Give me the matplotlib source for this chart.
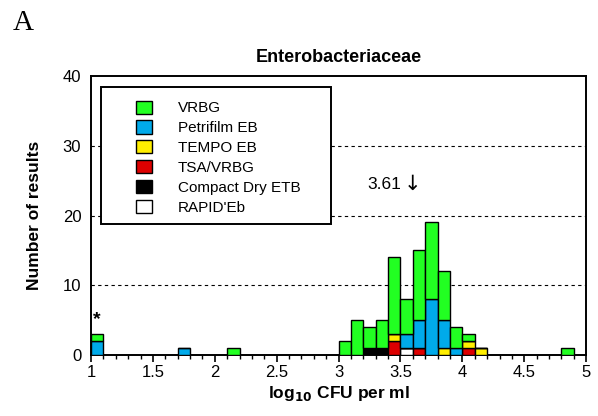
import numpy as np
import matplotlib.pyplot as plt
from matplotlib.patches import Rectangle
from matplotlib.ticker import MultipleLocator

# bin left edges (log10 CFU per ml), bin width 0.1
bins = [1.0, 1.7, 2.1, 3.0, 3.1, 3.2, 3.3, 3.4, 3.5, 3.6, 3.7, 3.8, 3.9, 4.0, 4.1, 4.8]

# counts per method in each bin (stacked bottom -> top)
rapid_eb    = [0, 0, 0, 0, 0, 0, 0, 0, 1, 0, 0, 0, 0, 0, 0, 0]
compact_dry = [0, 0, 0, 0, 0, 1, 1, 0, 0, 0, 0, 0, 0, 0, 0, 0]
tsa_vrbg    = [0, 0, 0, 0, 0, 0, 0, 2, 0, 1, 0, 0, 0, 1, 0, 0]
tempo_eb    = [0, 0, 0, 0, 0, 0, 0, 1, 0, 0, 0, 1, 0, 1, 1, 0]
petrifilm   = [2, 1, 0, 0, 0, 0, 0, 0, 2, 4, 8, 4, 1, 0, 0, 0]
vrbg        = [1, 0, 1, 2, 5, 3, 4, 11, 5, 10, 11, 7, 3, 1, 0, 1]

labels = ["VRBG", "Petrifilm EB", "TEMPO EB", "TSA/VRBG", "Compact Dry ETB", "RAPID'Eb"]
series = [vrbg, petrifilm, tempo_eb, tsa_vrbg, compact_dry, rapid_eb]
colors = ["#22ff22", "#00aaea", "#ffee00", "#dd0000", "#000000", "#ffffff"]

median_value = "3.61"

plt.rcParams['font.family'] = ['Liberation Sans', 'DejaVu Sans']

fig = plt.figure(figsize=(5.98, 4.16), dpi=100)
ax = fig.add_axes([0.1522, 0.1466, 0.828, 0.6707])

width = 0.1
bottom = np.zeros(len(bins))
handles = {}
# draw from the bottom of the stack upwards
for vals, col, lab in zip(series[::-1], colors[::-1], labels[::-1]):
    vals = np.array(vals, dtype=float)
    b = ax.bar(bins, vals, width=width, bottom=bottom, align='edge',
               color=col, edgecolor='black', linewidth=1.0, zorder=3)
    handles[lab] = b
    bottom += vals

for yv in [10, 20, 30]:
    ax.axhline(yv, color='black', linewidth=0.8, dashes=(3, 3), zorder=1)

ax.set_xlim(1, 5)
ax.set_ylim(0, 40)
ax.xaxis.set_minor_locator(MultipleLocator(0.1))
ax.set_xticks([1, 1.5, 2, 2.5, 3, 3.5, 4, 4.5, 5])
ax.set_xticklabels(["1", "1.5", "2", "2.5", "3", "3.5", "4", "4.5", "5"])
ax.set_yticks([0, 10, 20, 30, 40])
ax.tick_params(axis='x', which='major', direction='out', length=5, width=1.2, labelsize=12, pad=2)
ax.tick_params(axis='x', which='minor', direction='out', length=3, width=1.0)
ax.tick_params(axis='y', length=0, labelsize=12, pad=7)
for s in ax.spines.values():
    s.set_linewidth(1.4)

ax.set_title("Enterobacteriaceae", fontsize=13, fontweight='bold', pad=10)
ax.set_xlabel("log$_{\\mathbf{10}}$ CFU per ml", fontsize=12.5, fontweight='bold', labelpad=3)
ax.set_ylabel("Number of results", fontsize=12.5, fontweight='bold', labelpad=15)

# legend box
box = Rectangle((0.02, 0.47), 0.465, 0.49, transform=ax.transAxes,
                facecolor='white', edgecolor='black', linewidth=1.4, zorder=4)
ax.add_patch(box)
ax.legend([handles[l] for l in labels], labels, loc='upper left',
          bbox_to_anchor=(0.09, 0.912), frameon=False, fontsize=11,
          handlelength=1.05, handleheight=0.95, handletextpad=1.7,
          labelspacing=0.33, borderpad=0, borderaxespad=0).set_zorder(5)

ax.text(3.37, 24.5, median_value, fontsize=12.5, ha='center', va='center')
ax.text(3.60, 24.6, "\u2193", fontsize=15, family='DejaVu Sans', ha='center', va='center')
ax.text(1.05, 3.8, "*", fontsize=14, fontweight='bold', ha='center', va='bottom')

fig.text(0.022, 0.928, "A", fontsize=21, family='Liberation Serif', va='baseline')

fig.savefig("out.png", dpi=100)
